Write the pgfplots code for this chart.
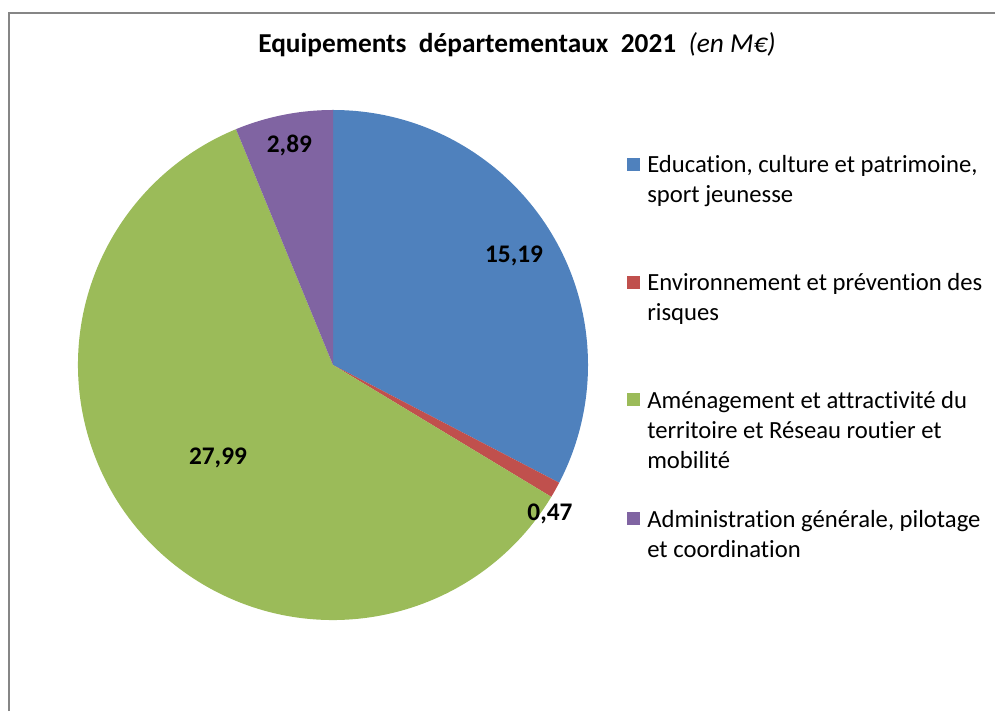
\documentclass[border=0pt]{standalone}
\usepackage{pgfplots}
\pgfplotsset{compat=1.18}
\usepackage{pgfplotstable}
\usepackage{fontspec}
\setmainfont{Carlito}[Ligatures=NoCommon]
\definecolor{cA}{RGB}{79,129,189}
\definecolor{cB}{RGB}{192,80,77}
\definecolor{cC}{RGB}{155,187,89}
\definecolor{cD}{RGB}{128,100,162}
\definecolor{frame}{RGB}{134,134,134}
\pgfplotstableread{
label value
Education 15.19
Environnement 0.47
Amenagement 27.99
Administration 2.89
}\piedata
\begin{document}
\begin{tikzpicture}
\path[use as bounding box] (0,0) rectangle (746.25pt,533.25pt);
\pgfplotstablegetelem{0}{value}\of\piedata \let\vA\pgfplotsretval
\pgfplotstablegetelem{1}{value}\of\piedata \let\vB\pgfplotsretval
\pgfplotstablegetelem{2}{value}\of\piedata \let\vC\pgfplotsretval
\pgfplotstablegetelem{3}{value}\of\piedata \let\vD\pgfplotsretval
\pgfmathsetmacro\T{\vA+\vB+\vC+\vD}
\pgfmathsetmacro\aA{90-360*\vA/\T}
\pgfmathsetmacro\aB{\aA-360*\vB/\T}
\pgfmathsetmacro\aC{\aB-360*\vC/\T}
\draw[frame, line width=1.5pt] (6.75pt,0pt) -- (6.75pt,523.5pt) -- (750pt,523.5pt);
\node[anchor=base] at (387.75pt,493.5pt) {\fontsize{20.5}{24}\selectfont\textbf{Equipements\ \ départementaux\ \ 2021}\ \ \textit{(en M€)}};
\begin{axis}[hide axis, clip=false, x=191.25pt, y=191.25pt,
  xmin=-1, xmax=1, ymin=-1, ymax=1, anchor=origin, at={(249.75pt,259.5pt)}]
\fill[cA] (axis cs:0,0) -- (axis cs:0,1) arc[start angle=90, end angle=\aA, radius=191.25pt] -- cycle;
\fill[cB] (axis cs:0,0) -- (axis cs:{cos(\aA)},{sin(\aA)}) arc[start angle=\aA, end angle=\aB, radius=191.25pt] -- cycle;
\fill[cC] (axis cs:0,0) -- (axis cs:{cos(\aB)},{sin(\aB)}) arc[start angle=\aB, end angle=\aC, radius=191.25pt] -- cycle;
\fill[cD] (axis cs:0,0) -- (axis cs:{cos(\aC)},{sin(\aC)}) arc[start angle=\aC, end angle=-270, radius=191.25pt] -- cycle;
\begin{scope}[font=\fontsize{19}{23}\selectfont\bfseries]
\node[anchor=base] at (axis cs:0.710,0.400) {15,19};
\node[anchor=base] at (axis cs:0.851,-0.608) {0,47};
\node[anchor=base] at (axis cs:-0.451,-0.392) {27,99};
\node[anchor=base] at (axis cs:-0.171,0.835) {2,89};
\end{scope}
\end{axis}
\begin{scope}[every node/.style={anchor=base west, inner sep=0pt, font=\fontsize{18.5}{22}\selectfont}]
\fill[cA] (470.25pt,405pt) rectangle (480pt,414.75pt);
\fill[cB] (470.25pt,316.5pt) rectangle (480pt,326.25pt);
\fill[cC] (470.25pt,228.75pt) rectangle (480pt,238.5pt);
\fill[cD] (470.25pt,139.5pt) rectangle (480pt,149.25pt);
\node at (485.25pt,403.5pt) {Education, culture et patrimoine,};
\node at (485.25pt,381pt) {sport jeunesse};
\node at (485.25pt,315pt) {Environnement et prévention des};
\node at (485.25pt,292.5pt) {risques};
\node at (485.25pt,227.25pt) {Aménagement et attractivité du};
\node at (485.25pt,204.75pt) {territoire et Réseau routier et};
\node at (485.25pt,182.25pt) {mobilité};
\node at (485.25pt,138pt) {Administration générale, pilotage};
\node at (485.25pt,115.5pt) {et coordination};
\end{scope}
\end{tikzpicture}
\end{document}
